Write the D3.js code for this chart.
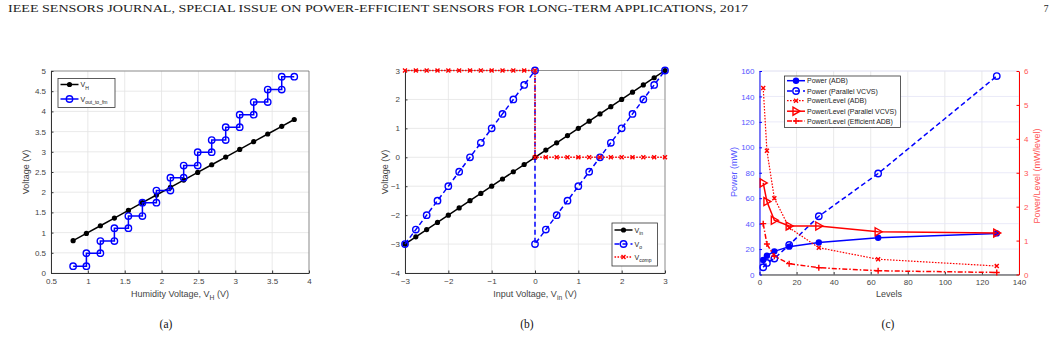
<!DOCTYPE html>
<html>
<head>
<meta charset="utf-8">
<script src="https://cdn.jsdelivr.net/npm/d3@7/dist/d3.min.js"></script>
<style>
  body { margin: 0; background: #fff; }
  svg text { font-family: Arial, "Liberation Sans", sans-serif; }
</style>
</head>
<body>
<div id="fig"></div>
<script>
// ---- data: panel (a) ----
var hX = [0.8, 0.98, 1.17, 1.36, 1.55, 1.74, 1.93, 2.12, 2.30, 2.49, 2.68, 2.87, 3.06, 3.25, 3.44, 3.63, 3.8];
var vH = [0.8, 0.98, 1.17, 1.36, 1.55, 1.74, 1.93, 2.12, 2.30, 2.49, 2.68, 2.87, 3.06, 3.25, 3.44, 3.63, 3.8];
var vOutStep = [0.17, 0.49, 0.79, 1.11, 1.41, 1.74, 2.04, 2.36, 2.66, 2.99, 3.29, 3.61, 3.92, 4.23, 4.54, 4.86];

// ---- data: panel (b) ----
var vinX = [-3, -2.75, -2.5, -2.25, -2, -1.75, -1.5, -1.25, -1, -0.75, -0.5, -0.25, 0,
            0.25, 0.5, 0.75, 1, 1.25, 1.5, 1.75, 2, 2.25, 2.5, 2.75, 3];
var vinY = [-3, -2.75, -2.5, -2.25, -2, -1.75, -1.5, -1.25, -1, -0.75, -0.5, -0.25, 0,
            0.25, 0.5, 0.75, 1, 1.25, 1.5, 1.75, 2, 2.25, 2.5, 2.75, 3];
var voX = [-3, -2.75, -2.5, -2.25, -2, -1.75, -1.5, -1.25, -1, -0.75, -0.5, -0.25, 0,
           0, 0.25, 0.5, 0.75, 1, 1.25, 1.5, 1.75, 2, 2.25, 2.5, 2.75, 3];
var voY = [-3, -2.5, -2, -1.5, -1, -0.5, 0, 0.5, 1, 1.5, 2, 2.5, 3,
           -3, -2.5, -2, -1.5, -1, -0.5, 0, 0.5, 1, 1.5, 2, 2.5, 3];
var vcompX = [-3, -2.75, -2.5, -2.25, -2, -1.75, -1.5, -1.25, -1, -0.75, -0.5, -0.25, 0,
              0, 0.25, 0.5, 0.75, 1, 1.25, 1.5, 1.75, 2, 2.25, 2.5, 2.75, 3];
var vcompY = [3, 3, 3, 3, 3, 3, 3, 3, 3, 3, 3, 3, 3,
              0, 0, 0, 0, 0, 0, 0, 0, 0, 0, 0, 0, 0];

// ---- data: panel (c) ----
var levels = [2, 4, 8, 16, 32, 64, 128];
var powerADB = [11.4, 14.8, 18.2, 21.9, 25.2, 28.9, 32.3];
var powerVCVS = [5.7, 9.1, 12.5, 23.2, 45.8, 79.4, 156];
var plADB = [5.5, 3.65, 2.25, 1.38, 0.79, 0.45, 0.25];
var plVCVS = [2.7, 2.15, 1.6, 1.43, 1.43, 1.26, 1.22];
var plEff = [1.5, 0.9, 0.54, 0.32, 0.2, 0.11, 0.06];

var headerText = "IEEE SENSORS JOURNAL, SPECIAL ISSUE ON POWER-EFFICIENT SENSORS FOR LONG-TERM APPLICATIONS, 2017";

var svg = d3.select("#fig").append("svg")
    .attr("width", 1057).attr("height", 338);

// header + captions
svg.append("text").attr("x", 8).attr("y", 12)
    .attr("textLength", 740).attr("lengthAdjust", "spacingAndGlyphs")
    .style("font-family", "'Liberation Serif', 'DejaVu Serif', serif").style("font-size", "9.5px")
    .attr("fill", "#222").text(headerText);
svg.append("text").attr("x", 1046).attr("y", 12).attr("text-anchor", "middle")
    .style("font-family", "'Liberation Serif', serif").style("font-size", "9.5px").attr("fill", "#222").text("7");

[["(a)", 166], ["(b)", 527], ["(c)", 888]].forEach(function (c) {
    svg.append("text").attr("x", c[1]).attr("y", 328).attr("text-anchor", "middle")
        .style("font-family", "'Liberation Serif', serif").style("font-size", "11.5px")
        .attr("fill", "#111").text(c[0]);
});

var tickCol = "#444", gridCol = "#e3e3e3";

function zip(xs, ys) { return xs.map(function (x, i) { return [x, ys[i]]; }); }

// axes frame with grid, ticks inward
function frame(g, x, y, xt, yt, opts) {
    opts = opts || {};
    var x0 = x.range()[0], x1 = x.range()[1], y0 = y.range()[0], y1 = y.range()[1];
    g.append("g").selectAll("line").data(xt).enter().append("line")
        .attr("x1", d => x(d)).attr("x2", d => x(d)).attr("y1", y0).attr("y2", y1)
        .attr("stroke", gridCol).attr("stroke-width", 0.8);
    g.append("g").selectAll("line").data(yt).enter().append("line")
        .attr("x1", x0).attr("x2", x1).attr("y1", d => y(d)).attr("y2", d => y(d))
        .attr("stroke", opts.hgrid || gridCol).attr("stroke-width", 0.8);
    // box
    g.append("line").attr("x1", x0).attr("x2", x1).attr("y1", y1).attr("y2", y1)
        .attr("stroke", opts.topCol || "#555").attr("stroke-width", 0.6);
    if (!opts.noRight)
        g.append("line").attr("x1", x1).attr("x2", x1).attr("y1", y0).attr("y2", y1)
            .attr("stroke", "#555").attr("stroke-width", 0.6);
    var xa = g.append("g").attr("transform", "translate(0," + y0 + ")")
        .call(d3.axisBottom(x).tickValues(xt).tickSizeInner(-2.5).tickSizeOuter(0).tickPadding(5)
            .tickFormat(d3.format("")));
    xa.select(".domain").attr("stroke", "#333").attr("stroke-width", 1);
    xa.selectAll("line").attr("stroke", "#333");
    xa.selectAll("text").attr("fill", tickCol).style("font-size", "8px");
    var ycol = opts.ycol || "#333";
    var ya = g.append("g").attr("transform", "translate(" + x0 + ",0)")
        .call(d3.axisLeft(y).tickValues(yt).tickSizeInner(-2.5).tickSizeOuter(0).tickPadding(5)
            .tickFormat(d3.format("")));
    ya.select(".domain").attr("stroke", ycol).attr("stroke-width", 1);
    ya.selectAll("line").attr("stroke", ycol);
    ya.selectAll("text").attr("fill", opts.ylab || tickCol).style("font-size", "8px");
}

function subLabel(g, x, y, pre, sub, post, rot, col, size) {
    size = size || 9;
    var t = g.append("text").attr("text-anchor", "middle").attr("fill", col || "#444")
        .style("font-size", size + "px");
    if (rot) t.attr("transform", "translate(" + x + "," + y + ") rotate(" + rot + ")");
    else t.attr("x", x).attr("y", y);
    t.append("tspan").text(pre);
    if (sub) {
        t.append("tspan").attr("dy", 2.5).style("font-size", size * 0.75 + "px").text(sub);
        t.append("tspan").attr("dy", -2.5).text(post);
    }
    return t;
}

function marker(g, type, cx, cy, col) {
    if (type === "dot") {
        g.append("circle").attr("cx", cx).attr("cy", cy).attr("r", 2.6).attr("fill", col);
    } else if (type === "bigdot") {
        g.append("circle").attr("cx", cx).attr("cy", cy).attr("r", 3.2).attr("fill", col);
    } else if (type === "ring") {
        g.append("circle").attr("cx", cx).attr("cy", cy).attr("r", 3.2)
            .attr("fill", "none").attr("stroke", col).attr("stroke-width", 1.4);
    } else if (type === "x") {
        g.append("path").attr("d", "M" + (cx - 2) + "," + (cy - 2) + "L" + (cx + 2) + "," + (cy + 2) +
            "M" + (cx - 2) + "," + (cy + 2) + "L" + (cx + 2) + "," + (cy - 2))
            .attr("stroke", col).attr("stroke-width", 1.4);
    } else if (type === "plus") {
        g.append("path").attr("d", "M" + (cx - 3) + "," + cy + "L" + (cx + 3) + "," + cy +
            "M" + cx + "," + (cy - 3) + "L" + cx + "," + (cy + 3))
            .attr("stroke", col).attr("stroke-width", 1.4);
    } else if (type === "tri") {
        g.append("path").attr("d", "M" + (cx - 3) + "," + (cy - 4) + "L" + (cx + 4) + "," + cy +
            "L" + (cx - 3) + "," + (cy + 4) + "Z")
            .attr("fill", "none").attr("stroke", col).attr("stroke-width", 1.4);
    }
}

function series(g, pts, x, y, col, dash, mk, width) {
    g.append("path").datum(pts)
        .attr("d", d3.line().x(d => x(d[0])).y(d => y(d[1])))
        .attr("fill", "none").attr("stroke", col).attr("stroke-width", width || 1.5)
        .attr("stroke-dasharray", dash || null);
    pts.forEach(function (p) { marker(g, mk, x(p[0]), y(p[1]), col); });
}

function legend(g, box, rows, fs) {
    g.append("rect").attr("x", box[0]).attr("y", box[1]).attr("width", box[2]).attr("height", box[3])
        .attr("fill", "#fff").attr("stroke", "#333").attr("stroke-width", 0.8);
    rows.forEach(function (r) {
        var ly = r.y, lx0 = box[0] + 2.5, lx1 = lx0 + 18;
        g.append("line").attr("x1", lx0).attr("x2", lx1).attr("y1", ly).attr("y2", ly)
            .attr("stroke", r.col).attr("stroke-width", r.w || 1.5).attr("stroke-dasharray", r.dash || null);
        marker(g, r.mk, (lx0 + lx1) / 2, ly, r.col);
        var t = g.append("text").attr("x", lx1 + 2).attr("y", ly + 2.5).attr("fill", "#222")
            .style("font-size", fs + "px");
        t.append("tspan").text(r.label);
        if (r.sub) t.append("tspan").attr("dy", 2.5).style("font-size", (fs * 0.72) + "px").text(r.sub);
    });
}

// ---------------- panel (a) ----------------
function drawA() {
    var g = svg.append("g");
    var x = d3.scaleLinear().domain([0.5, 4]).range([51, 309]);
    var y = d3.scaleLinear().domain([0, 5]).range([273, 71]);
    frame(g, x, y, d3.range(0.5, 4.01, 0.5), d3.range(0, 5.01, 0.5));
    // staircase output
    var stair = [];
    vOutStep.forEach(function (v, i) {
        stair.push([hX[i], v]);
        stair.push([hX[i + 1], v]);
    });
    series(g, zip(hX, vH), x, y, "#000", null, "dot");
    series(g, stair, x, y, "#0000ff", null, "ring");
    subLabel(g, 180, 297, "Humidity Voltage, V", "H", " (V)");
    subLabel(g, 29, 172, "Voltage (V)", null, null, -90);
    legend(g, [58, 78.5, 57, 29], [
        {y: 84.5, col: "#000", mk: "dot", label: "V", sub: "H"},
        {y: 99, col: "#0000ff", mk: "ring", label: "V", sub: "out_to_fm"}
    ], 7);
}

// ---------------- panel (b) ----------------
function drawB() {
    var g = svg.append("g");
    var x = d3.scaleLinear().domain([-3, 3]).range([405, 665]);
    var y = d3.scaleLinear().domain([-4, 3]).range([273, 70.5]);
    frame(g, x, y, d3.range(-3, 3.01, 1), d3.range(-4, 3.01, 1));
    series(g, zip(vinX, vinY), x, y, "#000", null, "dot");
    series(g, zip(voX, voY), x, y, "#0000ff", "5,3", "ring");
    series(g, zip(vcompX, vcompY), x, y, "#ff0000", "1.6,1.4", "x");
    subLabel(g, 535, 297, "Input Voltage, V", "in", " (V)");
    subLabel(g, 388, 172, "Voltage (V)", null, null, -90);
    legend(g, [612, 223, 45.5, 43], [
        {y: 230, col: "#000", mk: "dot", label: "V", sub: "in"},
        {y: 244, col: "#0000ff", mk: "ring", label: "V", sub: "o", dash: "5,3"},
        {y: 257, col: "#ff0000", mk: "x", label: "V", sub: "comp", dash: "1.6,1.4"}
    ], 7);
}

// ---------------- panel (c) ----------------
function drawC() {
    var g = svg.append("g");
    var x = d3.scaleLinear().domain([0, 140]).range([759.5, 1019]);
    var yl = d3.scaleLinear().domain([0, 160]).range([274.5, 71]);
    var yr = d3.scaleLinear().domain([0, 6]).range([274.5, 71]);
    frame(g, x, yl, d3.range(0, 140.1, 20), d3.range(0, 160.1, 20),
        {ycol: "#0000ff", ylab: "#5555ff", hgrid: "#e4e4f6", topCol: "#e0e0f0", noRight: true});
    // right axis
    var ra = g.append("g").attr("transform", "translate(1019,0)")
        .call(d3.axisRight(yr).tickValues(d3.range(0, 6.01, 1)).tickSizeInner(-2.5).tickSizeOuter(0)
            .tickPadding(5).tickFormat(d3.format("")));
    ra.select(".domain").attr("stroke", "#ff0000").attr("stroke-width", 1);
    ra.selectAll("line").attr("stroke", "#ff0000");
    ra.selectAll("text").attr("fill", "#ff5555").style("font-size", "8px");

    series(g, zip(levels, powerADB), x, yl, "#0000ff", null, "bigdot");
    series(g, zip(levels, powerVCVS), x, yl, "#0000ff", "5,3", "ring");
    series(g, zip(levels, plADB), x, yr, "#ff0000", "1.6,1.4", "x", 1.2);
    series(g, zip(levels, plVCVS), x, yr, "#ff0000", null, "tri");
    series(g, zip(levels, plEff), x, yr, "#ff0000", "5,2,1.5,2", "plus");

    subLabel(g, 889, 297, "Levels");
    subLabel(g, 737, 172, "Power (mW)", null, null, -90, "#5555ff");
    subLabel(g, 1040, 176, "Power/Level (mW/level)", null, null, -90, "#ff5555");
    legend(g, [784.5, 76, 116, 51.5], [
        {y: 80.7, col: "#0000ff", mk: "bigdot", label: "Power (ADB)"},
        {y: 91, col: "#0000ff", mk: "ring", label: "Power (Parallel VCVS)", dash: "5,3"},
        {y: 100.7, col: "#ff0000", mk: "x", label: "Power/Level (ADB)", dash: "1.6,1.4", w: 1.2},
        {y: 111.2, col: "#ff0000", mk: "tri", label: "Power/Level (Parallel VCVS)"},
        {y: 121, col: "#ff0000", mk: "plus", label: "Power/Level (Efficient ADB)", dash: "5,2,1.5,2"}
    ], 7);
}

drawA();
drawB();
drawC();
</script>
</body>
</html>
